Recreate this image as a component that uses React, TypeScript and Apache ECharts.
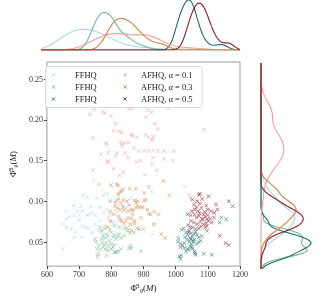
import { useEffect, useRef } from "react";
import * as echarts from "echarts";

const xTicks = [600, 700, 800, 900, 1000, 1100, 1200];
const yTicks = [0.05, 0.1, 0.15, 0.2, 0.25];
const legendLabels = ["FFHQ", "FFHQ", "FFHQ", "AFHQ, α = 0.1", "AFHQ, α = 0.3", "AFHQ, α = 0.5"];
const colors = ["#a9d6e8", "#72b88d", "#1e6b6e", "#f39c9c", "#d4813f", "#8c1c24"];

const ffhqLight: number[][] = [
  [745, 0.1255], [712, 0.1074], [724, 0.1046], [755, 0.1042], [775, 0.1074], [788, 0.109], [683, 0.0949],
  [706, 0.0941], [737, 0.0933], [765, 0.0933], [785, 0.0901], [660, 0.0881], [695, 0.0881], [710, 0.0881],
  [740, 0.0861], [685, 0.0828], [700, 0.0828], [725, 0.0828], [750, 0.0828], [775, 0.0861], [648, 0.072],
  [660, 0.068], [675, 0.066], [685, 0.0559], [650, 0.0418], [710, 0.07], [720, 0.068], [728, 0.0668],
  [708, 0.0559], [740, 0.0619], [760, 0.0639], [770, 0.0619], [750, 0.072], [765, 0.076], [780, 0.07],
  [800, 0.0748], [810, 0.074], [825, 0.076], [859, 0.104], [875, 0.101], [927, 0.059], [1027, 0.118],
  [925, 0.112], [797, 0.084], [835, 0.095], [845, 0.092], [660, 0.078], [670, 0.081], [700, 0.077],
  [730, 0.0841], [790, 0.0805], [815, 0.088], [690, 0.062],
];
const ffhqGreen: number[][] = [
  [752, 0.0506], [760, 0.0458], [755, 0.0418], [770, 0.0539], [775, 0.0579], [780, 0.0547], [785, 0.0599],
  [790, 0.0571], [800, 0.0619], [805, 0.0559], [810, 0.0587], [815, 0.0539], [820, 0.0571], [825, 0.0599],
  [830, 0.0547], [840, 0.0579], [772, 0.049], [778, 0.0466], [785, 0.049], [790, 0.045], [800, 0.0478],
  [805, 0.0438], [810, 0.0466], [795, 0.0518], [765, 0.041], [775, 0.0438], [782, 0.041], [790, 0.0398],
  [800, 0.0418], [760, 0.0357], [785, 0.0337], [810, 0.0377], [830, 0.0418], [815, 0.0377], [855, 0.0426],
  [860, 0.0458], [770, 0.0639], [795, 0.0651], [780, 0.0668], [765, 0.068], [810, 0.07], [825, 0.068],
  [840, 0.0668], [850, 0.0639], [858, 0.0611], [750, 0.0539], [757, 0.0324], [812, 0.0376], [822, 0.0388],
  [892, 0.0388], [862, 0.0425], [880, 0.067], [900, 0.066], [870, 0.062], [922, 0.084],
];
const ffhqTeal: number[][] = [
  [1019, 0.0651], [1025, 0.0668], [1032, 0.0619], [1037, 0.0587], [1042, 0.0639], [1047, 0.0611],
  [1052, 0.0571], [1057, 0.0599], [1062, 0.0627], [1067, 0.0587], [1072, 0.0559], [1029, 0.0559],
  [1035, 0.0531], [1042, 0.0506], [1047, 0.0539], [1055, 0.0498], [1059, 0.0531], [1065, 0.0478],
  [1072, 0.0498], [1077, 0.0518], [1082, 0.0571], [1007, 0.0506], [1015, 0.0478], [1022, 0.0458],
  [1027, 0.0426], [1037, 0.0418], [1045, 0.045], [1052, 0.0418], [1059, 0.0386], [1032, 0.0386],
  [1017, 0.0337], [1062, 0.0345], [1087, 0.0357], [1112, 0.0345], [1015, 0.0297], [1142, 0.0801],
  [1157, 0.078], [1137, 0.074], [1097, 0.0639], [1009, 0.0547], [1015, 0.0438], [1027, 0.049],
  [1049, 0.0478], [1012, 0.0324], [1060, 0.0364], [1040, 0.0405], [1050, 0.044], [1045, 0.055], [1053, 0.052],
];
const afhq01: number[][] = [
  [770, 0.223], [734, 0.2065], [747, 0.2125], [775, 0.21], [780, 0.208], [799, 0.205], [819, 0.222],
  [855, 0.213], [865, 0.2145], [913, 0.212], [925, 0.209], [977, 0.214], [907, 0.203], [935, 0.1955],
  [944, 0.1888], [813, 0.1955], [807, 0.1867], [825, 0.186], [833, 0.184], [743, 0.178], [863, 0.182],
  [866, 0.18], [879, 0.1787], [907, 0.1815], [916, 0.1787], [930, 0.1795], [929, 0.1758], [1089, 0.188],
  [783, 0.1715], [786, 0.17], [827, 0.173], [833, 0.1706], [834, 0.1675], [841, 0.1715], [853, 0.172],
  [870, 0.1658], [885, 0.1618], [903, 0.1625], [916, 0.1618], [930, 0.1625], [946, 0.1618], [964, 0.1618],
  [995, 0.1618], [991, 0.15], [963, 0.152], [929, 0.1537], [927, 0.1465], [890, 0.1497], [878, 0.148],
  [853, 0.1537], [842, 0.1594], [817, 0.1594], [814, 0.156], [790, 0.16], [790, 0.1497], [788, 0.148],
  [768, 0.1577], [743, 0.138], [807, 0.14], [837, 0.136], [825, 0.1316], [762, 0.121], [904, 0.1325],
  [941, 0.138], [1042, 0.108], [1046, 0.104], [925, 0.175],
];
const afhq03: number[][] = [
  [799, 0.12], [817, 0.121], [822, 0.1194], [827, 0.1114], [832, 0.113], [837, 0.1146], [822, 0.109],
  [857, 0.1154], [877, 0.1154], [902, 0.1102], [962, 0.1251], [980, 0.1074], [797, 0.1001], [812, 0.0985],
  [817, 0.1009], [822, 0.1033], [829, 0.0981], [837, 0.1017], [849, 0.1001], [855, 0.0953], [872, 0.1009],
  [877, 0.0981], [882, 0.1001], [902, 0.1009], [907, 0.1021], [812, 0.0941], [819, 0.092], [827, 0.0896],
  [837, 0.0928], [839, 0.0888], [852, 0.088], [862, 0.09], [867, 0.0888], [877, 0.092], [882, 0.0941],
  [889, 0.0928], [897, 0.0928], [912, 0.09], [917, 0.0848], [934, 0.0872], [947, 0.084], [797, 0.088],
  [807, 0.084], [822, 0.082], [827, 0.0788], [832, 0.0759], [839, 0.0727], [845, 0.0767], [852, 0.08],
  [862, 0.0791], [867, 0.084], [872, 0.0759], [892, 0.08], [932, 0.0719], [955, 0.0598], [967, 0.055],
  [849, 0.0671], [862, 0.0646], [872, 0.0727], [887, 0.0658], [797, 0.0759], [789, 0.0687], [859, 0.0719],
  [917, 0.1175],
];
const afhq05: number[][] = [
  [1037, 0.0841], [1047, 0.0829], [1059, 0.0841], [1065, 0.0801], [1072, 0.0821], [1082, 0.0788],
  [1087, 0.0841], [1092, 0.0813], [1097, 0.078], [1102, 0.076], [1107, 0.0788], [1112, 0.074], [1047, 0.076],
  [1057, 0.074], [1067, 0.072], [1077, 0.0748], [1087, 0.072], [1097, 0.07], [1079, 0.0692], [1092, 0.068],
  [1072, 0.0668], [1052, 0.068], [1062, 0.066], [1137, 0.0579], [1155, 0.049], [1165, 0.0466], [1039, 0.0708],
  [1119, 0.0801], [1052, 0.1022], [1057, 0.0961], [1067, 0.1001], [1075, 0.0973], [1082, 0.103], [1102, 0.1062],
  [1125, 0.0961], [1165, 0.1001], [1177, 0.0941], [1072, 0.1082], [1075, 0.109], [1060, 0.09], [1070, 0.088],
  [1080, 0.092], [1090, 0.087], [1100, 0.09], [1110, 0.088], [1075, 0.085], [1095, 0.095], [1065, 0.093],
  [1120, 0.086], [1130, 0.09], [1050, 0.088], [1100, 0.083], [1085, 0.078], [1095, 0.073], [1045, 0.068],
  [1040, 0.062],
];

const groups = [ffhqLight, ffhqGreen, ffhqTeal, afhq01, afhq03, afhq05];

const X_MIN = 600, X_MAX = 1200, Y_MIN = 0.0206, Y_MAX = 0.2709;

function kde(vals: number[], grid: number[]): number[] {
  const n = vals.length;
  const mean = vals.reduce((a, b) => a + b, 0) / n;
  const sd = Math.sqrt(vals.reduce((a, b) => a + (b - mean) ** 2, 0) / (n - 1));
  const h = sd * Math.pow(n, -0.2);
  const c = 1 / (n * h * Math.sqrt(2 * Math.PI));
  return grid.map((g) => {
    let s = 0;
    for (const v of vals) s += Math.exp(-0.5 * ((g - v) / h) ** 2);
    return s * c;
  });
}

const XMARK = "path://M0,1L1,0L5,4L9,0L10,1L6,5L10,9L9,10L5,6L1,10L0,9L4,5Z";
const FONT = "Liberation Serif";

export default function App() {
  const ref = useRef<HTMLDivElement>(null);
  useEffect(() => {
    const chart = echarts.init(ref.current!, null, { renderer: "svg" });
    const xGrid: number[] = [];
    for (let v = X_MIN; v <= X_MAX + 0.001; v += 3) xGrid.push(v);
    const yGrid: number[] = [];
    for (let v = Y_MIN; v <= Y_MAX + 1e-9; v += 0.0015) yGrid.push(v);
    const xDens = groups.map((g) => kde(g.map((p) => p[0]), xGrid));
    const yDens = groups.map((g) => kde(g.map((p) => p[1]), yGrid));
    const topMax = Math.max(...xDens[5]) / 0.94;
    const rightMax = Math.max(...yDens[2]) / 0.91;

    const series: any[] = [];
    groups.forEach((g, i) => {
      series.push({
        type: "scatter", xAxisIndex: 0, yAxisIndex: 0, data: g, symbol: XMARK, symbolSize: 4,
        itemStyle: { color: colors[i], opacity: 0.75 }, silent: true,
      });
    });
    groups.forEach((_, i) => {
      series.push({
        type: "line", xAxisIndex: 1, yAxisIndex: 1, showSymbol: false, symbol: "none",
        data: xGrid.map((x, k) => [x, xDens[i][k]]),
        lineStyle: { color: colors[i], width: 1.1 }, silent: true,
      });
      series.push({
        type: "line", xAxisIndex: 2, yAxisIndex: 2, showSymbol: false, symbol: "none",
        data: yGrid.map((y, k) => [yDens[i][k], y]),
        lineStyle: { color: colors[i], width: 1.1 }, silent: true,
      });
    });

    const legendEls: any[] = [
      {
        type: "rect", shape: { x: 45.5, y: 66.5, width: 156.5, height: 41, r: 2 },
        style: { fill: "rgba(255,255,255,0.85)", stroke: "#d0d0d0", lineWidth: 0.8 }, z: 100,
      },
    ];
    legendLabels.forEach((lab, i) => {
      const col = i < 3 ? 0 : 1;
      const row = i % 3;
      const mx = col === 0 ? 53.5 : 125;
      const tx = col === 0 ? 75 : 141;
      const cy = 75 + row * 12;
      const s = 1.6;
      legendEls.push(
        { type: "line", shape: { x1: mx - s, y1: cy - s, x2: mx + s, y2: cy + s }, style: { stroke: colors[i], lineWidth: 1, opacity: 0.85 }, z: 101 },
        { type: "line", shape: { x1: mx - s, y1: cy + s, x2: mx + s, y2: cy - s }, style: { stroke: colors[i], lineWidth: 1, opacity: 0.85 }, z: 101 },
        {
          type: "text", x: tx, y: cy, z: 101,
          style: { text: lab, fill: "#222", font: `8.5px "${FONT}"`, verticalAlign: "middle", align: "left" },
        }
      );
    });

    const labelStyle = { fontFamily: FONT, fontSize: 8, color: "#333" };
    const richName = {
      a: { fontFamily: FONT, fontSize: 9, color: "#222" },
      m: { fontFamily: FONT, fontSize: 9, fontStyle: "italic", color: "#222" },
      s: { fontFamily: FONT, fontSize: 6, color: "#222", verticalAlign: "top", padding: [0, 0, 4, 0] },
      b: { fontFamily: FONT, fontSize: 6, fontStyle: "italic", color: "#222", verticalAlign: "bottom", padding: [3, 0, 0, 0] },
    };
    const option: any = {
      animation: false,
      grid: [
        { left: 41, top: 62, width: 199, height: 207, show: true, borderColor: "#9a9a9a", borderWidth: 1, backgroundColor: "transparent" },
        { left: 41, top: 0, width: 199, height: 50 },
        { left: 261, top: 62, width: 55, height: 207 },
      ],
      xAxis: [
        {
          gridIndex: 0, type: "value", min: X_MIN, max: X_MAX, interval: 100,
          axisLine: { show: false }, splitLine: { show: false },
          axisTick: { show: true, length: 3, lineStyle: { color: "#444" } },
          axisLabel: { ...labelStyle, margin: 4, customValues: xTicks, formatter: (v: number) => String(v) },
          name: "{a|Φ̂}{s|1}{b|g}{a|(}{m|M}{a|)}", nameLocation: "middle", nameGap: 14,
          nameTextStyle: { rich: richName },
        },
        { gridIndex: 1, type: "value", min: X_MIN, max: X_MAX, show: false },
        { gridIndex: 2, type: "value", min: 0, max: rightMax, show: false },
      ],
      yAxis: [
        {
          gridIndex: 0, type: "value", min: Y_MIN, max: Y_MAX,
          axisLine: { show: false }, splitLine: { show: false },
          axisTick: { show: true, length: 3, lineStyle: { color: "#444" }, customValues: yTicks },
          axisLabel: { ...labelStyle, margin: 4, customValues: yTicks, formatter: (v: number) => v.toFixed(2) },
          name: "{a|Φ̂}{s|2}{b|g}{a|(}{m|M}{a|)}", nameLocation: "middle", nameGap: 26, nameRotate: 90,
          nameTextStyle: { rich: richName },
        },
        { gridIndex: 1, type: "value", min: 0, max: topMax, show: false },
        { gridIndex: 2, type: "value", min: Y_MIN, max: Y_MAX, show: false },
      ],
      series,
      graphic: legendEls,
    };
    chart.setOption(option);
    return () => chart.dispose();
  }, []);
  return <div ref={ref} style={{ position: "fixed", left: 0, top: 0, width: 323, height: 298 }} />;
}
